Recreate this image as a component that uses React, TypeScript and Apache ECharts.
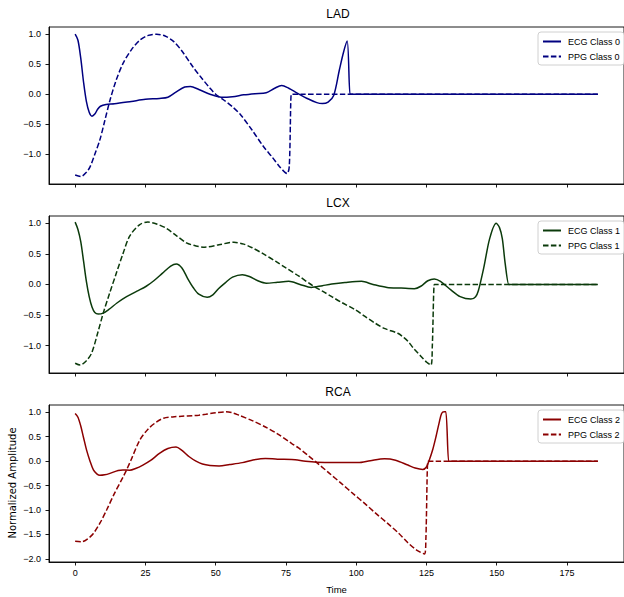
import React, { useEffect, useRef } from "react";
import * as echarts from "echarts";

// ---- data (x = time, y = normalized amplitude) ----
const ladEcg: [number, number][] = [
  [0, 1.0], [1, 0.9], [2, 0.6], [3, 0.2], [4, -0.12], [5, -0.3], [6, -0.365], [7, -0.33], [8, -0.25],
  [9, -0.2], [11, -0.17], [14, -0.16], [20, -0.12], [25, -0.085], [30, -0.07], [33, -0.05], [36, 0.04],
  [39, 0.12], [41, 0.13], [44, 0.08], [48, 0.0], [52, -0.05], [56, -0.04], [60, -0.01], [64, 0.01],
  [68, 0.025], [71, 0.1], [73.5, 0.145], [76, 0.1], [79, 0.02], [83, -0.08], [86, -0.14], [88, -0.155],
  [90, -0.13], [92, -0.02], [94, 0.4], [95.5, 0.7], [96.8, 0.885], [97.8, 0.0], [98.1, 0], [100, 0], [186, 0],
];
const ladPpg: [number, number][] = [
  [0, -1.345], [2, -1.37], [4, -1.3], [5.3, -1.21], [7, -1.0], [8.8, -0.76], [10.5, -0.45], [12.4, -0.1],
  [14.5, 0.22], [17, 0.51], [20, 0.74], [23, 0.9], [26, 0.98], [29, 1.0], [32, 0.97], [35, 0.88],
  [38, 0.72], [42, 0.45], [45, 0.27], [48, 0.1], [50, 0.0], [53, -0.1], [56, -0.21], [59, -0.35],
  [63, -0.6], [67, -0.87], [70, -1.04], [73, -1.22], [75.4, -1.32], [76.2, -1.2], [76.9, 0.0], [77.2, 0],
  [80, 0], [186, 0],
];
const lcxEcg: [number, number][] = [
  [0, 1.02], [1, 0.9], [2, 0.7], [3, 0.38], [4, 0.05], [5, -0.2], [6, -0.37], [7, -0.46], [8.2, -0.485],
  [10, -0.47], [12, -0.41], [15, -0.3], [18.3, -0.2], [22, -0.11], [25.3, -0.03], [28, 0.06], [31, 0.18],
  [34, 0.3], [36, 0.335], [38, 0.27], [40, 0.1], [42, -0.05], [44, -0.16], [47, -0.21], [49, -0.17],
  [51, -0.07], [53.5, 0.03], [56, 0.12], [59.5, 0.16], [62, 0.13], [65, 0.06], [68, 0.02], [72, 0.035],
  [76, 0.05], [80, 0.0], [84, -0.05], [88, -0.02], [91.3, 0.005], [96, 0.03], [101.9, 0.05], [106, 0.0],
  [111, -0.05], [116, -0.06], [120.7, -0.07], [123, -0.03], [125.5, 0.06], [127.8, 0.09], [130, 0.05],
  [133.7, -0.09], [137, -0.2], [140.8, -0.24], [142.5, -0.2], [143.5, -0.1], [145.5, 0.295], [147.5, 0.75],
  [149.8, 1.0], [151, 0.93], [152, 0.75], [153, 0.35], [154.3, 0.0], [154.6, 0], [157, 0], [186, 0],
];
const lcxPpg: [number, number][] = [
  [0, -1.29], [1.8, -1.32], [4, -1.25], [5.9, -1.12], [8, -0.8], [10, -0.47], [12.3, -0.14], [14.7, 0.19],
  [17, 0.5], [19.4, 0.79], [23, 0.98], [25.9, 1.02], [29, 0.99], [32.4, 0.92], [36, 0.8], [39.6, 0.68],
  [43, 0.63], [46.1, 0.61], [51.2, 0.65], [56.5, 0.69], [60, 0.66], [63, 0.6], [67, 0.5], [71.3, 0.38],
  [75, 0.27], [79.5, 0.14], [84.5, -0.02], [88, -0.11], [91.3, -0.2], [95, -0.3], [99.5, -0.41], [103, -0.52],
  [106.6, -0.63], [110, -0.72], [114.8, -0.8], [117, -0.87], [118.4, -0.93], [120.5, -1.05], [123.1, -1.18],
  [125, -1.27], [126.6, -1.32], [127.1, -1.0], [127.8, 0.0], [128.1, 0], [130, 0], [186, 0],
];
const rcaEcg: [number, number][] = [
  [0, 0.975], [1, 0.9], [2, 0.72], [3, 0.48], [4.1, 0.22], [5.3, 0.0], [6.5, -0.18], [7.7, -0.26],
  [8.8, -0.29], [10.5, -0.28], [12.4, -0.25], [15.3, -0.19], [17, -0.18], [19.4, -0.185], [21.5, -0.15],
  [24.1, -0.08], [27, 0.02], [30, 0.16], [33, 0.26], [35.9, 0.29], [38, 0.22], [40.6, 0.09], [43, 0.0],
  [45.3, -0.06], [48, -0.09], [51.2, -0.1], [55, -0.07], [59.5, -0.03], [63, 0.02], [67.7, 0.055],
  [72, 0.04], [77.1, 0.035], [82, 0.0], [86, -0.02], [91.3, -0.03], [96, -0.03], [100.7, -0.03],
  [105, 0.01], [110.1, 0.05], [114, 0.02], [118.4, -0.08], [121, -0.14], [123.7, -0.17], [125, -0.12],
  [126, 0.02], [127.3, 0.25], [128.4, 0.5], [129.5, 0.78], [130.4, 0.975], [131.3, 1.01], [131.9, 1.01],
  [132.9, 0.0], [133.2, 0], [135, 0], [186, 0],
];
const rcaPpg: [number, number][] = [
  [0, -1.64], [2.4, -1.65], [4.5, -1.59], [6.5, -1.48], [9, -1.25], [11.2, -1.0], [14, -0.66],
  [17.1, -0.32], [18.3, -0.18], [20, 0.04], [23, 0.43], [26, 0.66], [28.9, 0.8], [31.5, 0.88],
  [34.7, 0.905], [38, 0.92], [41.8, 0.93], [44, 0.94], [46.5, 0.96], [50, 0.99], [53.6, 1.01], [56, 0.99],
  [58.3, 0.94], [63, 0.83], [67.7, 0.7], [72, 0.56], [77.1, 0.36], [79.5, 0.27], [83, 0.11], [86.6, -0.06],
  [90.5, -0.25], [94.8, -0.46], [99, -0.67], [103.1, -0.87], [107, -1.07], [111.3, -1.28], [115, -1.47],
  [118.4, -1.67], [121.5, -1.82], [124.3, -1.9], [124.8, -1.6], [125.5, 0.0], [125.8, 0], [128, 0], [186, 0],
];

const panelTitles = ["LAD", "LCX", "RCA"];
const ecgNames = ["ECG Class 0", "ECG Class 1", "ECG Class 2"];
const ppgNames = ["PPG Class 0", "PPG Class 1", "PPG Class 2"];
const xTicks = [0, 25, 50, 75, 100, 125, 150, 175];
const yTicksTop = [-1.0, -0.5, 0.0, 0.5, 1.0];
const yTicksBottom = [-2.0, -1.5, -1.0, -0.5, 0.0, 0.5, 1.0];
const yRanges: [number, number][] = [[-1.495, 1.12], [-1.45, 1.12], [-2.065, 1.15]];

const colors = ["#000080", "#0b3a0b", "#8b0000"];
const FONT = "Liberation Sans";

export default function App() {
  const ref = useRef<HTMLDivElement>(null);
  useEffect(() => {
    if (!ref.current) return;
    const chart = echarts.init(ref.current, null, { renderer: "svg" });
    const tops = [27, 216, 405];
    const gridH = 157;
    const ecgData = [ladEcg, lcxEcg, rcaEcg];
    const ppgData = [ladPpg, lcxPpg, rcaPpg];
    const fmt = (v: number) => v.toFixed(1).replace("-", "\u2212");
    const yTickSets = [yTicksTop, yTicksTop, yTicksBottom];

    const option: any = {
      animation: false,
      backgroundColor: "#fff",
      grid: tops.map((t) => ({
        left: 49, top: t, width: 579, height: gridH, show: true,
        borderColor: "#000", borderWidth: 0.9, backgroundColor: "transparent",
      })),
      xAxis: tops.map((_, i) => ({
        type: "value", gridIndex: i, min: -9.3, max: 195.3,
        axisLine: { show: true, onZero: false, lineStyle: { color: "#000", width: 0.9 } },
        axisTick: { show: true, customValues: xTicks, length: 3.5, lineStyle: { color: "#000", width: 0.9 } },
        axisLabel: {
          show: i === 2, customValues: xTicks, margin: 6, color: "#000",
          fontSize: 9, fontFamily: FONT,
        },
        splitLine: { show: false },
        name: i === 2 ? "Time" : "",
        nameLocation: "middle", nameGap: 22,
        nameTextStyle: { color: "#000", fontSize: 9.5, fontFamily: FONT },
      })),
      yAxis: tops.map((_, i) => ({
        type: "value", gridIndex: i, min: yRanges[i][0], max: yRanges[i][1],
        axisLine: { show: true, onZero: false, lineStyle: { color: "#000", width: 0.9 } },
        axisTick: { show: true, customValues: yTickSets[i], length: 3.5, lineStyle: { color: "#000", width: 0.9 } },
        axisLabel: {
          show: true, customValues: yTickSets[i], margin: 8, color: "#000",
          fontSize: 9, fontFamily: FONT, formatter: (v: number) => fmt(v),
        },
        splitLine: { show: false },
      })),
      legend: tops.map((t, i) => ({
        data: [ecgNames[i], ppgNames[i]],
        orient: "vertical", left: 538, top: t + 5,
        itemWidth: 18, itemHeight: 10, itemGap: 6,
        padding: [5, 4, 4, 4],
        borderColor: "#d0d0d0", borderWidth: 1, borderRadius: 3,
        backgroundColor: "#fff",
        itemStyle: { opacity: 0 },
        textStyle: { color: "#000", fontSize: 9, fontFamily: FONT, padding: [0, 0, 0, 2] },
      })),
      series: tops.flatMap((_, i) => [
        {
          name: ecgNames[i], type: "line", xAxisIndex: i, yAxisIndex: i,
          data: ecgData[i], symbol: "none", showSymbol: false,
          smooth: 0.3,
          color: colors[i],
          lineStyle: { color: colors[i], width: 1.5 },
        },
        {
          name: ppgNames[i], type: "line", xAxisIndex: i, yAxisIndex: i,
          data: ppgData[i], symbol: "none", showSymbol: false,
          smooth: 0.3,
          color: colors[i],
          lineStyle: { color: colors[i], width: 1.5, type: [5.5, 2.4] },
        },
      ]),
      graphic: [
        ...panelTitles.map((t, i) => ({
          type: "text", x: 338, y: tops[i] - 13,
          style: { text: t, fill: "#000", fontSize: 12, fontFamily: FONT, textAlign: "center", textVerticalAlign: "middle" },
        })),
        {
          type: "text", x: 12, y: 483, rotation: Math.PI / 2,
          style: {
            text: "Normalized Amplitude", fill: "#000", fontSize: 10, fontFamily: "DejaVu Sans",
            textAlign: "center", textVerticalAlign: "middle",
          },
        },
      ],
    };
    chart.setOption(option);
    return () => chart.dispose();
  }, []);
  return <div ref={ref} style={{ position: "fixed", left: 0, top: 0, width: 624, height: 597 }} />;
}
